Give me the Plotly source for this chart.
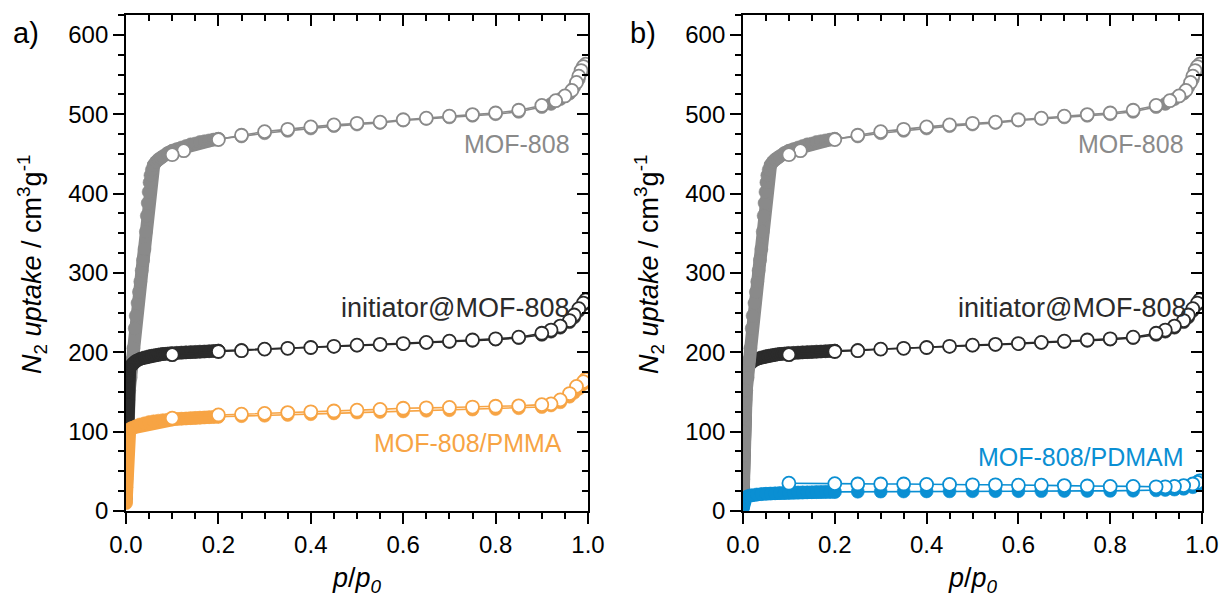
import plotly.graph_objects as go

# ---- N2 isotherms (77 K), relative pressure p/p0 vs uptake (cm3 g-1) ----

# MOF-808
mof_ads_p = [0.0002, 0.0005, 0.001, 0.002, 0.003, 0.005, 0.007, 0.010, 0.013, 0.016,
             0.019, 0.021, 0.025, 0.028, 0.031, 0.034, 0.037, 0.040, 0.043, 0.045,
             0.047, 0.049, 0.051, 0.053, 0.056, 0.060, 0.065, 0.070, 0.075, 0.080,
             0.090, 0.100, 0.110, 0.120, 0.130, 0.140, 0.150, 0.160, 0.170, 0.180,
             0.190, 0.200, 0.250, 0.300, 0.350, 0.400, 0.450, 0.500, 0.550, 0.600,
             0.650, 0.700, 0.750, 0.800, 0.850, 0.900, 0.920, 0.940, 0.960, 0.970,
             0.980, 0.990]
mof_ads_v = [15, 40, 70, 100, 120, 140, 152, 168, 190, 205,
             230, 246, 262, 276, 289, 303, 316, 330, 352, 372,
             388, 402, 414, 423, 430, 436, 440, 443, 445, 447,
             451, 454, 456, 458, 460, 462, 463, 465, 466, 467,
             468, 469, 472, 476, 479, 482, 485, 487, 489, 492,
             494, 496, 498, 500, 503, 509, 513, 519, 526, 534,
             544, 555]
mof_des_p = [0.995, 0.990, 0.985, 0.980, 0.975, 0.965, 0.950, 0.930, 0.900, 0.850,
             0.800, 0.750, 0.700, 0.650, 0.600, 0.550, 0.500, 0.450, 0.400, 0.350,
             0.300, 0.250, 0.200, 0.125, 0.100]
mof_des_v = [563, 560, 555, 548, 540, 530, 523, 517, 511, 505,
             501.5, 499.5, 497.5, 495, 493, 490, 488.5, 486.5, 484, 481,
             478, 473.5, 468, 454, 449]

# initiator@MOF-808
ini_ads_p = [0.0003, 0.0006, 0.001, 0.0015, 0.002, 0.003, 0.004, 0.005, 0.006, 0.008,
             0.010, 0.012, 0.015, 0.018, 0.021, 0.025, 0.030, 0.035, 0.040, 0.045,
             0.050, 0.055, 0.060, 0.065, 0.070, 0.075, 0.080, 0.085, 0.090, 0.095,
             0.100, 0.110, 0.120, 0.130, 0.140, 0.150, 0.160, 0.170, 0.180, 0.190,
             0.200, 0.250, 0.300, 0.350, 0.400, 0.450, 0.500, 0.550, 0.600, 0.650,
             0.700, 0.750, 0.800, 0.850, 0.900, 0.920, 0.940, 0.960, 0.970, 0.980,
             0.990]
ini_ads_v = [30, 70, 110, 135, 150, 163, 170, 174, 177, 180,
             182, 184, 186, 187.5, 189, 190, 191.5, 192.5, 193.5, 194,
             195, 195.5, 196, 196.5, 197, 197.5, 197.8, 198, 198.3, 198.6,
             199, 199.3, 199.6, 200, 200.2, 200.5, 200.8, 201, 201.3, 201.6,
             202, 203, 204, 205, 206, 207, 208.5, 209.5, 210.5, 212,
             213, 214.5, 216, 218, 222, 226, 231, 238, 244, 252,
             260]
ini_des_p = [0.995, 0.990, 0.980, 0.970, 0.960, 0.940, 0.920, 0.900, 0.850, 0.800,
             0.750, 0.700, 0.650, 0.600, 0.550, 0.500, 0.450, 0.400, 0.350, 0.300,
             0.250, 0.200, 0.100]
ini_des_v = [266, 262, 255, 247, 240, 233, 228, 224, 219, 217,
             215.5, 214, 212.5, 211, 210, 209, 207.5, 206, 205, 204,
             202, 201, 197]

# MOF-808/PMMA
pmma_ads_p = [0.0002, 0.0005, 0.001, 0.002, 0.003, 0.005, 0.008, 0.012, 0.016, 0.020,
              0.025, 0.030, 0.040, 0.050, 0.060, 0.070, 0.080, 0.090, 0.100, 0.110,
              0.120, 0.130, 0.140, 0.150, 0.160, 0.170, 0.180, 0.190, 0.200, 0.250,
              0.300, 0.350, 0.400, 0.450, 0.500, 0.550, 0.600, 0.650, 0.700, 0.750,
              0.800, 0.850, 0.900, 0.920, 0.940, 0.960, 0.970, 0.980, 0.990]
pmma_ads_v = [10, 30, 60, 85, 95, 101, 103, 104.5, 105, 106.5,
              107.5, 109, 110.5, 112, 113, 113.8, 114.5, 115, 115.5, 116,
              116.3, 116.6, 117, 117.3, 117.6, 117.9, 118.2, 118.5, 118.8, 119.5,
              120, 121, 122, 123, 124, 124.8, 125.5, 126.3, 127, 127.8,
              128.5, 129.5, 131, 133, 137, 144, 149, 154, 160]
pmma_des_p = [0.995, 0.990, 0.975, 0.960, 0.940, 0.920, 0.900, 0.850, 0.800, 0.750,
              0.700, 0.650, 0.600, 0.550, 0.500, 0.450, 0.400, 0.350, 0.300, 0.250,
              0.200, 0.100]
pmma_des_v = [166, 163, 157, 148, 140, 135, 134, 132.5, 132, 131,
              130.5, 130, 129.5, 128, 127, 126, 125, 124, 123, 122,
              121, 117]

# MOF-808/PDMAM
pdmam_ads_p = [0.0003, 0.001, 0.002, 0.004, 0.007, 0.010, 0.015, 0.020, 0.030, 0.040,
               0.050, 0.060, 0.070, 0.080, 0.090, 0.100, 0.110, 0.120, 0.130, 0.140,
               0.150, 0.160, 0.170, 0.180, 0.190, 0.200, 0.250, 0.300, 0.350, 0.400,
               0.450, 0.500, 0.550, 0.600, 0.650, 0.700, 0.750, 0.800, 0.850, 0.900,
               0.920, 0.940, 0.960, 0.980, 0.990]
pdmam_ads_v = [4, 8, 12, 15, 17, 18.5, 19.5, 20, 20.8, 21.3,
               21.7, 22, 22.3, 22.6, 22.8, 23, 23.2, 23.4, 23.5, 23.6,
               23.7, 23.8, 23.9, 24, 24, 24.1, 24.3, 24.5, 24.6, 24.7,
               24.8, 24.9, 25, 25, 25.1, 25.2, 25.3, 25.4, 25.5, 26,
               26.5, 27, 28, 30, 33]
pdmam_des_p = [0.995, 0.990, 0.980, 0.960, 0.940, 0.920, 0.900, 0.850, 0.800, 0.750,
               0.700, 0.650, 0.600, 0.550, 0.500, 0.450, 0.400, 0.350, 0.300, 0.250,
               0.200, 0.100]
pdmam_des_v = [38, 36, 34, 32, 31, 30.5, 30.5, 31, 31, 31.5,
               32, 32.5, 32.5, 33, 33, 33.5, 33.5, 34, 34, 34,
               34.5, 35]

GRAY = "#8a8a8a"
BLACK = "#2b2b2b"
ORANGE = "#f7a444"
BLUE = "#0a8fd3"

FONT = "Liberation Sans, Arial, sans-serif"
W, H = 1226, 597
MT, MB = 15, 86                 # top / bottom margins (px)
PLOT_H = H - MT - MB
MARKER = 13


def px_x(x):
    return x / W


def px_y(y):
    return (H - MB - y) / PLOT_H


def scatter(px, py, color, filled, xa, ya, width):
    return go.Scatter(
        x=px, y=py, xaxis=xa, yaxis=ya, mode="lines+markers",
        line=dict(color=color, width=width),
        marker=dict(symbol="circle", size=MARKER,
                    color=color if filled else "white",
                    line=dict(color=color, width=0.6 if filled else 1.8)),
        showlegend=False, hoverinfo="skip")


def add_isotherm(fig, ads_p, ads_v, des_p, des_v, color, xa, ya):
    # densely measured low-pressure part of the adsorption branch
    k = max(i for i, p in enumerate(ads_p) if p <= 0.2)
    fig.add_trace(scatter(ads_p[:k + 1], ads_v[:k + 1], color, True, xa, ya, MARKER))
    fig.add_trace(scatter(ads_p[k:], ads_v[k:], color, True, xa, ya, 1.6))
    fig.add_trace(scatter(des_p, des_v, color, False, xa, ya, 1.6))


fig = go.Figure()

# panel a
add_isotherm(fig, mof_ads_p, mof_ads_v, mof_des_p, mof_des_v, GRAY, "x", "y")
add_isotherm(fig, ini_ads_p, ini_ads_v, ini_des_p, ini_des_v, BLACK, "x", "y")
add_isotherm(fig, pmma_ads_p, pmma_ads_v, pmma_des_p, pmma_des_v, ORANGE, "x", "y")

# panel b
add_isotherm(fig, ini_ads_p, ini_ads_v, ini_des_p, ini_des_v, BLACK, "x2", "y2")
add_isotherm(fig, mof_ads_p, mof_ads_v, mof_des_p, mof_des_v, GRAY, "x2", "y2")
add_isotherm(fig, pdmam_ads_p, pdmam_ads_v, pdmam_des_p, pdmam_des_v, BLUE, "x2", "y2")

# empty traces so the mirrored frame axes are rendered
for xa, ya in (("x3", "y3"), ("x4", "y4")):
    fig.add_trace(go.Scatter(x=[None], y=[None], xaxis=xa, yaxis=ya,
                             showlegend=False, hoverinfo="skip"))

XRANGE = [0, 1]
YRANGE = [0, 625]
tickfont = dict(family=FONT, size=24, color="black")
common = dict(tickwidth=1.5, tickcolor="black", showline=True, linewidth=1.8,
              linecolor="black", showgrid=False, zeroline=False, fixedrange=True,
              automargin=False)


def x_axis(domain, anchor, top=False):
    d = dict(domain=domain, anchor=anchor, range=XRANGE, tick0=0, dtick=0.2,
             tickformat=".1f", ticks="inside" if top else "outside", ticklen=11,
             minor=dict(dtick=0.05, ticks="inside" if top else "outside", ticklen=6,
                        tickwidth=1.5, tickcolor="black"),
             tickfont=tickfont, showticklabels=not top, **common)
    if top:
        d["side"] = "top"
    return d


def y_axis(anchor, right=False):
    d = dict(domain=[0, 1], anchor=anchor, range=YRANGE, tick0=0, dtick=100,
             ticks="inside" if right else "outside", ticklen=11,
             minor=dict(dtick=25, ticks="inside" if right else "outside", ticklen=6,
                        tickwidth=1.5, tickcolor="black"),
             tickfont=tickfont, showticklabels=not right, **common)
    if right:
        d["side"] = "right"
    return d


dom_a = [126 / W, 588 / W]
dom_b = [743 / W, 1202 / W]

fig.update_layout(
    width=W, height=H, autosize=False,
    margin=dict(l=0, r=0, t=MT, b=MB, pad=0, autoexpand=False),
    paper_bgcolor="white", plot_bgcolor="rgba(0,0,0,0)",
    xaxis=x_axis(dom_a, "y"), yaxis=y_axis("x"),
    xaxis2=x_axis(dom_b, "y2"), yaxis2=y_axis("x2"),
    xaxis3=x_axis(dom_a, "y3", top=True), yaxis3=y_axis("x3", right=True),
    xaxis4=x_axis(dom_b, "y4", top=True), yaxis4=y_axis("x4", right=True),
)

# frame axes overlay the data axes
fig.layout.xaxis3.overlaying = "x"
fig.layout.yaxis3.overlaying = "y"
fig.layout.xaxis4.overlaying = "x2"
fig.layout.yaxis4.overlaying = "y2"

ann = []
ytitle = "<i>N</i><sub>2</sub> <i>uptake</i> / cm<sup>3</sup>g<sup>-1</sup>"
xtitle = "<i>p</i>/<i>p</i><sub><i>0</i></sub>"
for left, right, tag in ((126, 588, "a)"), (743, 1202, "b)")):
    ann.append(dict(text=ytitle, x=px_x(left - 94), y=px_y(265), xref="paper",
                    yref="paper", textangle=-90, showarrow=False,
                    font=dict(family=FONT, size=27, color="black"),
                    xanchor="center", yanchor="middle"))
    ann.append(dict(text=xtitle, x=px_x((left + right) / 2), y=px_y(580),
                    xref="paper", yref="paper", showarrow=False,
                    font=dict(family=FONT, size=27, color="black"),
                    xanchor="center", yanchor="middle"))
    ann.append(dict(text=tag, x=px_x(left - 115), y=px_y(33), xref="paper",
                    yref="paper", showarrow=False,
                    font=dict(family=FONT, size=29, color="black"),
                    xanchor="left", yanchor="middle"))

labels = [
    ("MOF-808", GRAY, 572, 144, 25),
    ("initiator@MOF-808", BLACK, 571, 308, 27),
    ("MOF-808/PMMA", ORANGE, 564, 443, 25),
    ("MOF-808", GRAY, 1186, 144, 25),
    ("initiator@MOF-808", BLACK, 1188, 308, 27),
    ("MOF-808/PDMAM", BLUE, 1186, 457, 25),
]
for text, color, xr, yc, size in labels:
    ann.append(dict(text=text, x=px_x(xr), y=px_y(yc), xref="paper", yref="paper",
                    showarrow=False, xanchor="right", yanchor="middle",
                    font=dict(family=FONT, size=size, color=color)))

fig.update_layout(annotations=ann)
fig.write_html("out.html")
